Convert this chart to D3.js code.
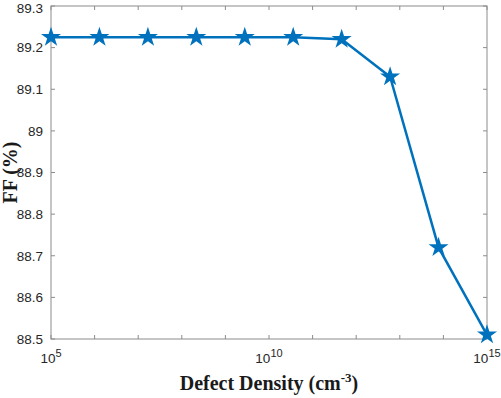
<!DOCTYPE html>
<html>
<head>
<meta charset="utf-8">
<script src="https://cdn.jsdelivr.net/npm/d3@7"></script>
<style>
  body { margin: 0; background: #fff; }
  .tick text { font-family: Arial, "Liberation Sans", sans-serif; font-size: 13.5px; fill: #262626; }
  .axisTitle { font-family: "Times New Roman", "Liberation Serif", serif; font-weight: bold; font-size: 20px; fill: #1a1a1a; }
</style>
</head>
<body>
<div id="chart"></div>
<script>
// defect density (cm^-3) and fill factor (%)
var density = [1e5, 1.29e6, 1.67e7, 2.15e8, 2.78e9, 3.59e10, 4.64e11, 5.99e12, 7.74e13, 1e15];
var ff = [89.225, 89.225, 89.225, 89.225, 89.225, 89.225, 89.22, 89.13, 88.72, 88.51];
var yTicks = [88.5, 88.6, 88.7, 88.8, 88.9, 89, 89.1, 89.2, 89.3];
var xMajor = [1e5, 1e10, 1e15];
var xMinor = [1e6, 1e7, 1e8, 1e9, 1e11, 1e12, 1e13, 1e14];

var margin = {top: 6, right: 14, bottom: 59, left: 51},
    width = 501 - margin.left - margin.right,
    height = 398 - margin.top - margin.bottom;

var svg = d3.select("#chart")
  .append("svg")
    .attr("width", 501)
    .attr("height", 398);

var g = svg.append("g")
  .attr("transform", `translate(${margin.left}, ${margin.top})`);

var x = d3.scaleLog().domain([1e5, 1e15]).range([0, width]);
var y = d3.scaleLinear().domain([88.5, 89.3]).range([height, 0]);

var axisColor = "#8c8c8c";

// box
g.append("rect")
  .attr("width", width)
  .attr("height", height)
  .attr("fill", "none")
  .attr("stroke", axisColor)
  .attr("stroke-width", 1);

// tick marks, inward, on all four sides
var tickLen = 4;
var allX = xMajor.concat(xMinor);
allX.forEach(function(v) {
  g.append("line").attr("x1", x(v)).attr("x2", x(v)).attr("y1", height).attr("y2", height - tickLen).attr("stroke", axisColor);
  g.append("line").attr("x1", x(v)).attr("x2", x(v)).attr("y1", 0).attr("y2", tickLen).attr("stroke", axisColor);
});
yTicks.forEach(function(v) {
  g.append("line").attr("x1", 0).attr("x2", tickLen).attr("y1", y(v)).attr("y2", y(v)).attr("stroke", axisColor);
  g.append("line").attr("x1", width).attr("x2", width - tickLen).attr("y1", y(v)).attr("y2", y(v)).attr("stroke", axisColor);
});

// y tick labels
var yAxis = d3.axisLeft(y).tickValues(yTicks).tickSize(0).tickPadding(8).tickFormat(d3.format("~g"));
g.append("g").call(yAxis).call(function(s) { s.select(".domain").remove(); });
// keep the top label inside the picture
g.selectAll(".tick text").filter(function(d) { return d === 89.3; }).attr("dy", "0.5em");

// x tick labels as 10^n
var xLab = g.append("g").attr("class", "tick");
xMajor.forEach(function(v) {
  var t = xLab.append("text")
    .attr("x", x(v))
    .attr("y", height + 24)
    .attr("text-anchor", "middle");
  t.append("tspan").text("10");
  t.append("tspan").attr("dy", -6).attr("font-size", "11px").text(Math.round(Math.log10(v)));
});

// line and stars
var line = d3.line()
  .x(function(d, i) { return x(density[i]); })
  .y(function(d) { return y(d); });

var blue = "#0072BD";
g.append("path")
  .datum(ff)
  .attr("d", line)
  .attr("fill", "none")
  .attr("stroke", blue)
  .attr("stroke-width", 2.5);

var star = d3.symbol().type(d3.symbolStar).size(125);
g.selectAll(".star")
  .data(ff)
  .enter()
  .append("path")
  .attr("class", "star")
  .attr("transform", function(d, i) { return `translate(${x(density[i])}, ${y(d)})`; })
  .attr("d", star)
  .attr("fill", blue);

// axis titles
var xt = svg.append("text")
  .attr("class", "axisTitle")
  .attr("x", margin.left + width / 2)
  .attr("y", 390)
  .attr("text-anchor", "middle");
xt.append("tspan").text("Defect Density (cm");
xt.append("tspan").attr("dy", -8).attr("font-size", "13px").text("-3");
xt.append("tspan").attr("dy", 8).text(")");

svg.append("text")
  .attr("class", "axisTitle")
  .attr("transform", `translate(17, ${margin.top + height / 2}) rotate(-90)`)
  .attr("text-anchor", "middle")
  .text("FF (%)");
</script>
</body>
</html>
